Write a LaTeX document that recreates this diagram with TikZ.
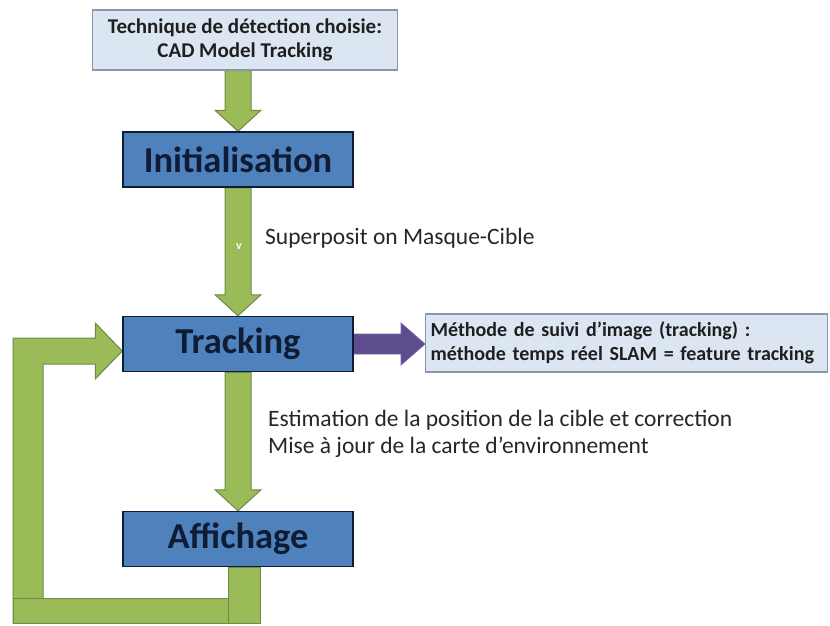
\documentclass[tikz,border=0pt]{standalone}
\usepackage{fontspec}
\setmainfont{Carlito}
\usetikzlibrary{positioning,calc,backgrounds}

\definecolor{bleuclair}{HTML}{DCE6F2}
\definecolor{bordgris}{HTML}{8796A8}
\definecolor{bleubox}{HTML}{4F81BD}
\definecolor{bleunuit}{HTML}{0F1C35}
\definecolor{vert}{HTML}{9BBB59}
\definecolor{vertbord}{HTML}{6F8A45}
\definecolor{violet}{HTML}{5D4C8E}

\tikzset{
  info/.style={draw=bordgris, fill=bleuclair, line width=1.2pt, text=black!88,
    font=\bfseries\fontsize{20}{23.5}\selectfont},
  etape/.style={draw=bleunuit, fill=bleubox, line width=1.5pt, text=bleunuit,
    minimum width=230pt, minimum height=55pt, font=\bfseries\fontsize{36.5}{40}\selectfont},
  fleche/.style={fill=vert, draw=vertbord, line width=1pt},
  flecheviolette/.style={fill=violet, draw=violet!85!white, line width=0.8pt},
  legende/.style={font=\fontsize{23.5}{27}\selectfont, text=black!85, align=left,
    anchor=west, inner sep=0pt},
}

% grosse fleche verte vers le bas, du bas de #1 au haut de #2
\newcommand{\flechebas}[2]{%
  \path[fleche] let \p1=(#1.south), \p2=(#2.north) in
    (\x2-13pt,\y1) -- (\x2-13pt,\y2+21pt) -- (\x2-23pt,\y2+21pt) -- (\x2,\y2)
    -- (\x2+23pt,\y2+21pt) -- (\x2+13pt,\y2+21pt) -- (\x2+13pt,\y1) -- cycle;}

\begin{document}
\begin{tikzpicture}[x=1pt, y=-1pt]
  \useasboundingbox (0,0) rectangle (830,625);

  % etapes
  \node[info, minimum width=305pt, minimum height=60pt, align=center,
    font=\bfseries\fontsize{21}{24}\selectfont] (choix) at (245,40)
    {Technique de détection choisie:\\CAD Model Tracking};
  \node[etape] (init) at (238,159.5) {Initialisation};
  \node[etape] (track) at (238,344) {Tracking};
  \node[etape] (affich) at (238,539) {Affichage};
  \node[info, anchor=west, text width=392pt, inner xsep=5pt, minimum height=58pt,
    align=left] (methode) at (425,343)
    {Méthode de suivi d’image (tracking) :\\méthode temps réel SLAM = feature tracking};

  % textes le long des fleches
  \node[font=\bfseries\fontsize{12}{12}\selectfont, text=white, inner sep=0pt] (v) at (239,247) {v};
  \node[legende] (superpos) at (265,238) {Superposit on Masque-Cible};
  \node[legende] (estim) at (268,434)
    {Estimation de la position de la cible et correction\\Mise à jour de la carte d’environnement};

  \coordinate (retour) at ($(track.west)+(0,7)$);

  \begin{scope}[on background layer]
    \flechebas{choix}{init}
    \flechebas{init}{track}
    \flechebas{track}{affich}
    \path[flecheviolette] let \p1=(track.east), \p2=(methode.west) in
      (\x1,\y1+10pt) -- (\x2-24pt,\y1+10pt) -- (\x2-24pt,\y1+21pt) -- (\x2,\y1)
      -- (\x2-24pt,\y1-21pt) -- (\x2-24pt,\y1-10pt) -- (\x1,\y1-10pt) -- cycle;
    % boucle de retour vers le tracking
    \path[fleche] (13,623) |- ($(retour)+(-27,-13)$) -- ++(0,-15) -- (retour)
      -- ($(retour)+(-27,28)$) -- ++(0,-15) -| (43,623) -- cycle;
    \path[fleche] (13,598) rectangle (228,623);
    \path[fleche] ($(affich.south)+(-10,0)$) rectangle (260,623);
  \end{scope}
\end{tikzpicture}
\end{document}
